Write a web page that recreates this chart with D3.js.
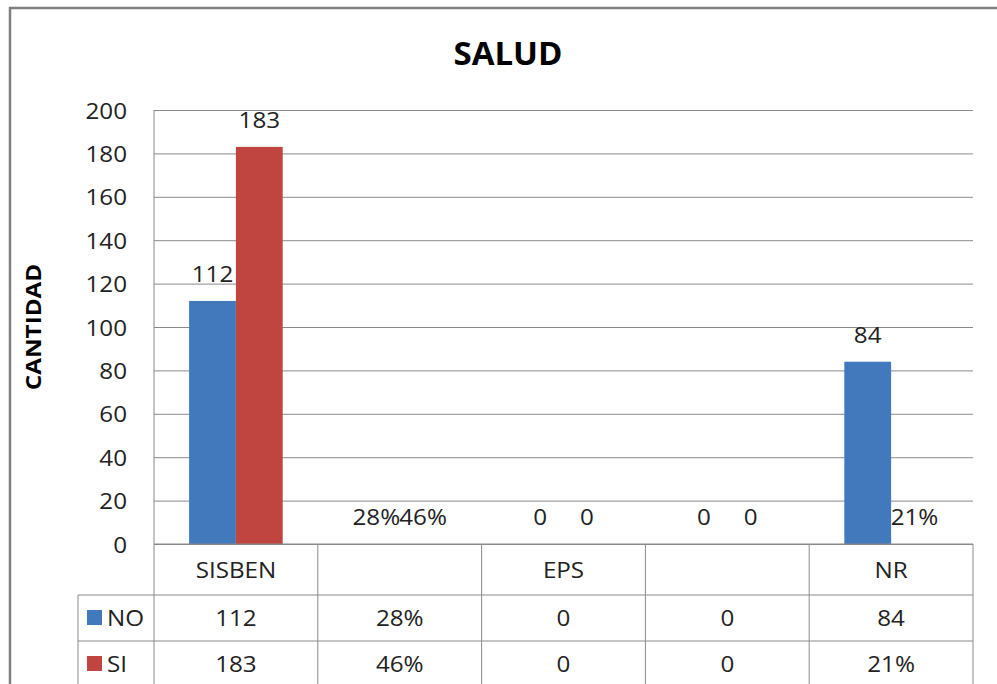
<!DOCTYPE html>
<html>
<head>
<meta charset="utf-8">
<script src="https://cdn.jsdelivr.net/npm/d3@7"></script>
<style>
  body { margin: 0; background: #fff; }
  svg { font-family: "Open Sans", "DejaVu Sans", sans-serif; }
</style>
</head>
<body>
<svg id="chart"></svg>
<script>
// Data
const categories = ["SISBEN", "", "EPS", "", "NR"];
const seriesNames = ["NO", "SI"];
const noValues = ["112", "28%", "0", "0", "84"];
const siValues = ["183", "46%", "0", "0", "21%"];
const seriesColors = ["#4279bd", "#c0443f"];
const yTicks = [0, 20, 40, 60, 80, 100, 120, 140, 160, 180, 200];

const width = 997, height = 684;
const margin = {top: 110, bottom: 140, left: 154, right: 24};
const gridColor = "#8a8a8a";
const textColor = "#222";
const fs = 22;        // body font size
const sx = 1.1;       // the original text is a little wider than Open Sans

const svg = d3.select("#chart")
    .attr("width", width)
    .attr("height", height);

// place a text at (x, y) slightly stretched in width
function label(g, x, y, txt, anchor) {
    return g.append("text")
        .attr("transform", `translate(${x},${y}) scale(${sx},1)`)
        .attr("text-anchor", anchor || "middle")
        .attr("font-size", fs)
        .attr("fill", textColor)
        .text(txt);
}

// outer frame of the chart object
svg.append("path")
    .attr("d", `M10,${height} L10,8 L${width},8`)
    .attr("fill", "none")
    .attr("stroke", "#7f7f7f")
    .attr("stroke-width", 2.5);

const series = [noValues, siValues];
// text values such as "28%" are not numbers, so their bars sit at 0
const num = v => isNaN(+v) ? 0 : +v;

const x = d3.scaleBand()
    .domain(d3.range(categories.length))
    .range([margin.left, width - margin.right])
    .paddingInner(0)
    .paddingOuter(0);

const xSub = d3.scaleBand()
    .domain(d3.range(seriesNames.length))
    .range([0, x.bandwidth()])
    .paddingInner(0)
    .paddingOuter(0.75);

const y = d3.scaleLinear()
    .domain([0, 200])
    .range([height - margin.bottom, margin.top]);

// Title
svg.append("text")
    .attr("x", 508)
    .attr("y", 65)
    .attr("text-anchor", "middle")
    .attr("font-size", 33)
    .attr("font-weight", "bold")
    .attr("fill", "#000")
    .text("SALUD");

// Y axis title
svg.append("text")
    .attr("transform", `translate(41,${(y(0) + y(200)) / 2}) rotate(-90) scale(${sx},1)`)
    .attr("text-anchor", "middle")
    .attr("font-size", 22)
    .attr("font-weight", "bold")
    .attr("fill", "#000")
    .text("CANTIDAD");

// gridlines
svg.append("g")
    .attr("transform", `translate(${margin.left},0)`)
    .call(d3.axisLeft(y).tickValues(yTicks).tickSize(-(width - margin.left - margin.right)).tickFormat(""))
    .call(g => g.select(".domain").remove())
    .call(g => g.selectAll("line").attr("stroke", gridColor));

// y tick labels
svg.append("g")
    .attr("transform", `translate(${margin.left},0)`)
    .call(d3.axisLeft(y).tickValues(yTicks).tickSize(0))
    .call(g => g.select(".domain").remove())
    .call(g => g.selectAll("text")
        .attr("x", null)
        .attr("dy", null)
        .attr("transform", `translate(-27,8) scale(${sx},1)`)
        .attr("font-size", fs)
        .attr("font-family", "'Open Sans', sans-serif")
        .attr("fill", textColor));

// bars
series.forEach((vals, si) => {
    svg.append("g").selectAll("rect")
        .data(vals)
        .join("rect")
        .attr("x", (d, i) => x(i) + xSub(si))
        .attr("y", d => y(num(d)))
        .attr("width", xSub.bandwidth())
        .attr("height", d => y(0) - y(num(d)))
        .attr("fill", seriesColors[si]);
});

// data labels
const labels = svg.append("g");
series.forEach((vals, si) => {
    vals.forEach((d, i) => {
        label(labels, x(i) + xSub(si) + xSub.bandwidth() / 2, y(num(d)) - 19, d);
    });
});

// y axis line
svg.append("line")
    .attr("x1", margin.left).attr("x2", margin.left)
    .attr("y1", y(200)).attr("y2", height)
    .attr("stroke", gridColor);

// data table
const rowTop = y(0);
const rowH = [51, 46, 46];
const rowY = [rowTop, rowTop + rowH[0], rowTop + rowH[0] + rowH[1]];
const tableLeft = 78;
const right = width - margin.right;
const table = svg.append("g");

// horizontal lines
table.append("line")
    .attr("x1", margin.left).attr("x2", right)
    .attr("y1", rowY[0]).attr("y2", rowY[0])
    .attr("stroke", gridColor);
[rowY[1], rowY[2]].forEach(yy => {
    table.append("line")
        .attr("x1", tableLeft).attr("x2", right)
        .attr("y1", yy).attr("y2", yy)
        .attr("stroke", gridColor);
});
// vertical lines
d3.range(1, categories.length + 1).forEach(i => {
    const xx = i < categories.length ? x(i) : right;
    table.append("line")
        .attr("x1", xx).attr("x2", xx)
        .attr("y1", rowY[0]).attr("y2", height)
        .attr("stroke", gridColor);
});
table.append("line")
    .attr("x1", tableLeft).attr("x2", tableLeft)
    .attr("y1", rowY[1]).attr("y2", height)
    .attr("stroke", gridColor);

// category row
categories.forEach((c, i) => {
    label(table, x(i) + x.bandwidth() / 2, rowY[0] + rowH[0] / 2 + 8, c);
});

// series rows
series.forEach((vals, si) => {
    const cy = rowY[si + 1] + rowH[si + 1] / 2;
    table.append("rect")
        .attr("x", 87).attr("y", cy - 8)
        .attr("width", 15).attr("height", 15)
        .attr("fill", seriesColors[si]);
    label(table, 107, cy + 8, seriesNames[si], "start");
    vals.forEach((d, i) => {
        label(table, x(i) + x.bandwidth() / 2, cy + 8, d);
    });
});
</script>
</body>
</html>
